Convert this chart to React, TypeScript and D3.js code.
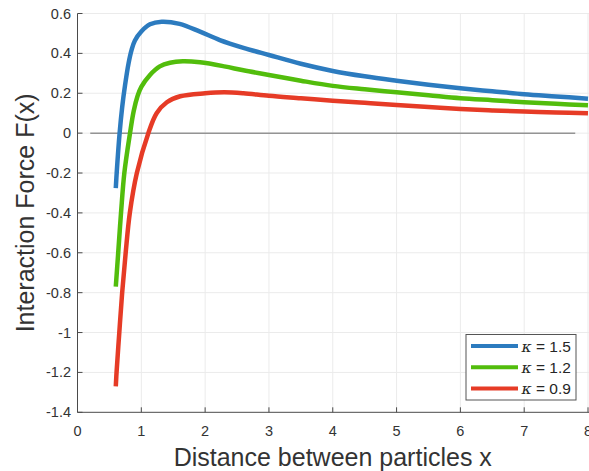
import React, { useEffect, useRef } from 'react';
import * as d3 from 'd3';

// tick values and labels
const xTicks = [0, 1, 2, 3, 4, 5, 6, 7, 8];
const yTicks = [-1.4, -1.2, -1, -0.8, -0.6, -0.4, -0.2, 0, 0.2, 0.4, 0.6];
const yTickLabels = ['-1.4', '-1.2', '-1', '-0.8', '-0.6', '-0.4', '-0.2', '0', '0.2', '0.4', '0.6'];

// series
const kappas = ['1.5', '1.2', '0.9'];
const colors = ['#2c7bbf', '#52bd0c', '#e63b26'];

const blueX = [0.6, 0.614, 0.66, 0.7, 0.745, 0.8, 0.85, 0.9, 1.0, 1.136, 1.32, 1.6, 1.92, 2.23, 2.6, 3, 3.5, 4, 4.5, 5, 5.5, 6, 6.5, 7, 7.5, 8];
const blueY = [-0.276, -0.2, 0, 0.13, 0.24, 0.35, 0.42, 0.465, 0.51, 0.546, 0.559, 0.548, 0.509, 0.467, 0.428, 0.392, 0.348, 0.312, 0.285, 0.263, 0.243, 0.225, 0.21, 0.195, 0.184, 0.173];

const greenX = [0.6, 0.638, 0.682, 0.734, 0.823, 0.88, 0.94, 1.0, 1.136, 1.29, 1.45, 1.65, 1.92, 2.3, 2.6, 3, 3.5, 4, 4.5, 5, 5.5, 6, 6.5, 7, 7.5, 8];
const greenY = [-0.77, -0.6, -0.4, -0.2, 0, 0.11, 0.185, 0.232, 0.292, 0.335, 0.353, 0.36, 0.355, 0.335, 0.315, 0.292, 0.263, 0.237, 0.22, 0.205, 0.19, 0.175, 0.165, 0.155, 0.147, 0.14];

const redX = [0.6, 0.612, 0.655, 0.7, 0.755, 0.82, 0.93, 1.11, 1.24, 1.4, 1.61, 2.0, 2.3, 2.6, 3, 3.5, 4, 4.5, 5, 5.5, 6, 6.5, 7, 7.5, 8];
const redY = [-1.27, -1.2, -1.0, -0.8, -0.6, -0.4, -0.2, 0, 0.1, 0.155, 0.185, 0.2, 0.205, 0.2, 0.187, 0.175, 0.163, 0.152, 0.141, 0.131, 0.121, 0.114, 0.108, 0.104, 0.1];

const zeroLineX = [0.2, 7.8];

export default function App() {
    const ref = useRef<SVGSVGElement>(null);

    useEffect(() => {
        drawChart();
    }, []);

    function drawChart() {
        const svg = d3.select(ref.current);
        svg.selectAll('*').remove();

        const x = d3.scaleLinear().domain([0, 8]).range([77.5, 588]);
        const y = d3.scaleLinear().domain([-1.4, 0.6]).range([412.3, 13.5]);
        const font = 'Helvetica, "Liberation Sans", Arial, sans-serif';

        // grid
        svg.append('g')
            .selectAll('line')
            .data(xTicks.slice(1))
            .enter()
            .append('line')
            .attr('x1', (d) => x(d)).attr('x2', (d) => x(d))
            .attr('y1', y(-1.4)).attr('y2', y(0.6))
            .style('stroke', '#ebebeb').style('stroke-width', 1);
        svg.append('g')
            .selectAll('line')
            .data(yTicks.slice(1))
            .enter()
            .append('line')
            .attr('x1', x(0)).attr('x2', 589)
            .attr('y1', (d) => y(d)).attr('y2', (d) => y(d))
            .style('stroke', '#ebebeb').style('stroke-width', 1);

        // zero line
        svg.append('line')
            .attr('x1', x(zeroLineX[0])).attr('x2', x(zeroLineX[1]))
            .attr('y1', y(0)).attr('y2', y(0))
            .style('stroke', '#949494').style('stroke-width', 1.5);

        // curves
        const series = [
            { xs: blueX, ys: blueY },
            { xs: greenX, ys: greenY },
            { xs: redX, ys: redY }
        ];
        const line = d3.line<[number, number]>()
            .x((d) => x(d[0]))
            .y((d) => y(d[1]))
            .curve(d3.curveCatmullRom.alpha(0.5));
        series.forEach((s, i) => {
            const pts = s.xs.map((v, j) => [v, s.ys[j]] as [number, number]);
            svg.append('path')
                .attr('d', line(pts))
                .style('fill', 'none')
                .style('stroke', colors[i])
                .style('stroke-width', 4.5);
        });

        // axes
        const axisColor = '#4a4a4a';
        svg.append('line')
            .attr('x1', x(0)).attr('x2', 589)
            .attr('y1', y(-1.4)).attr('y2', y(-1.4))
            .style('stroke', axisColor).style('stroke-width', 1);
        svg.append('line')
            .attr('x1', x(0)).attr('x2', x(0))
            .attr('y1', y(-1.4)).attr('y2', y(0.6))
            .style('stroke', axisColor).style('stroke-width', 1);

        const xt = svg.append('g').selectAll('g').data(xTicks).enter().append('g');
        xt.append('line')
            .attr('x1', (d) => x(d)).attr('x2', (d) => x(d))
            .attr('y1', y(-1.4)).attr('y2', y(-1.4) - 5)
            .style('stroke', axisColor);
        xt.append('text')
            .attr('x', (d) => x(d)).attr('y', 435.5)
            .attr('text-anchor', 'middle')
            .style('font-family', font).style('font-size', '14.5px').style('fill', '#333')
            .text((d) => String(d));

        const yt = svg.append('g').selectAll('g').data(yTicks).enter().append('g');
        yt.append('line')
            .attr('x1', x(0)).attr('x2', x(0) + 5)
            .attr('y1', (d) => y(d)).attr('y2', (d) => y(d))
            .style('stroke', axisColor);
        yt.append('text')
            .attr('x', 71).attr('y', (d) => y(d) + 5)
            .attr('text-anchor', 'end')
            .style('font-family', font).style('font-size', '14.5px').style('fill', '#333')
            .text((_, i) => yTickLabels[i]);

        // axis labels
        svg.append('text')
            .attr('x', (x(0) + 588) / 2).attr('y', 466)
            .attr('text-anchor', 'middle')
            .style('font-family', font).style('font-size', '25px').style('fill', '#333')
            .text('Distance between particles x');
        svg.append('text')
            .attr('transform', `translate(33.5, ${(y(-1.4) + y(0.6)) / 2}) rotate(-90)`)
            .attr('text-anchor', 'middle')
            .style('font-family', font).style('font-size', '25px').style('fill', '#333')
            .text('Interaction Force F(x)');

        // legend
        const lg = svg.append('g');
        lg.append('rect')
            .attr('x', 466).attr('y', 334.5).attr('width', 110).attr('height', 65.5)
            .style('fill', '#fff').style('stroke', '#555').style('stroke-width', 1);
        kappas.forEach((k, i) => {
            const cy = 346 + i * 21.3;
            lg.append('line')
                .attr('x1', 471).attr('x2', 518)
                .attr('y1', cy).attr('y2', cy)
                .style('stroke', colors[i]).style('stroke-width', 4);
            const t = lg.append('text')
                .attr('x', 521.5).attr('y', cy + 5.5)
                .style('font-family', font).style('font-size', '15.5px').style('fill', '#262626');
            t.append('tspan').style('font-style', 'italic').style('font-family', '"DejaVu Serif", serif').text('κ');
            t.append('tspan').text(` = ${k}`);
        });
    }

    return (
        <svg ref={ref} width={589} height={471}
            style={{ position: 'fixed', left: 0, top: 0, background: '#fff' }} />
    );
}
